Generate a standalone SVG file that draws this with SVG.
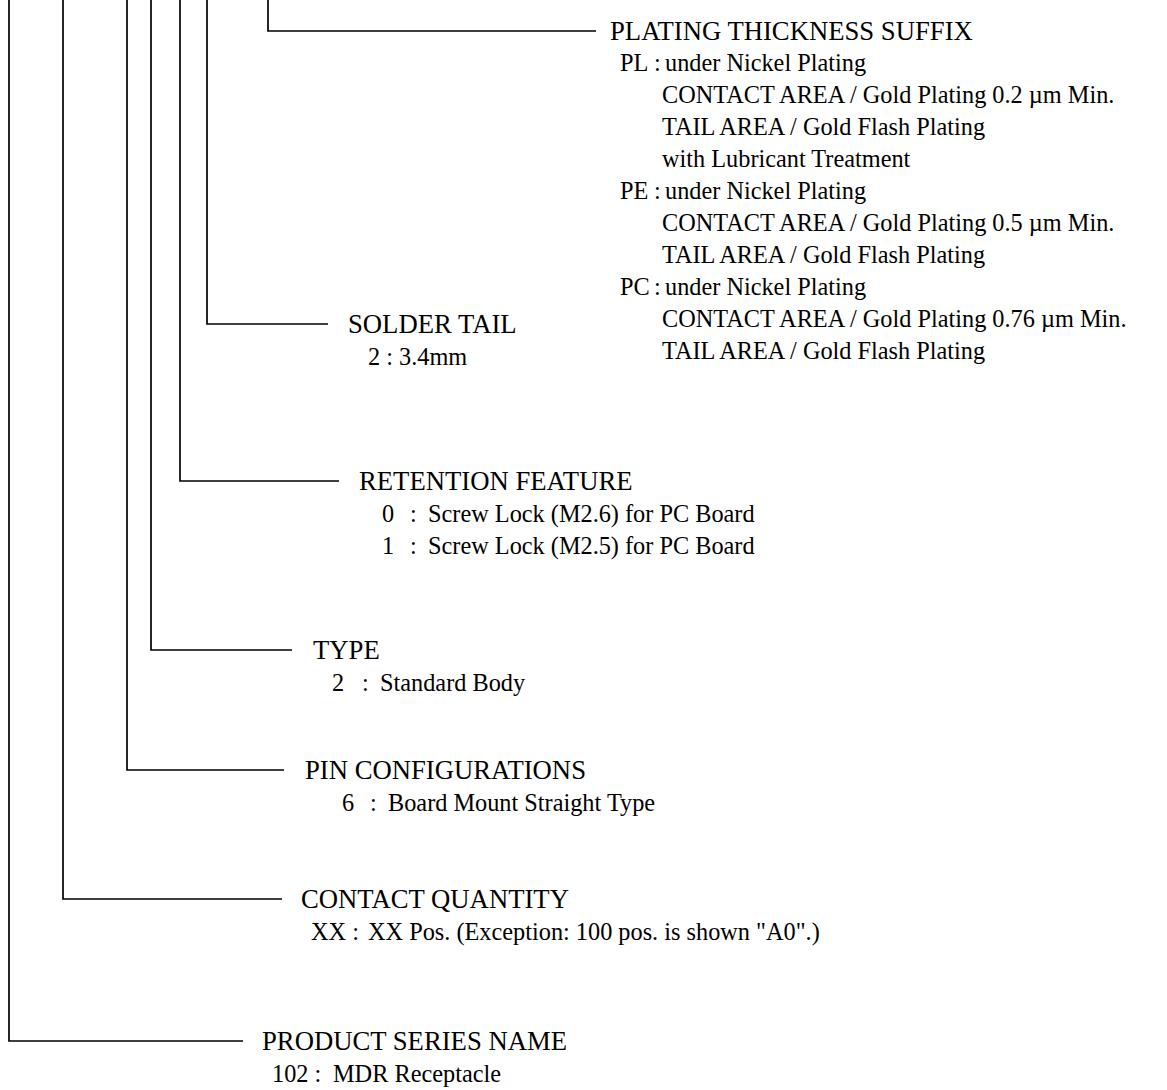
<svg xmlns="http://www.w3.org/2000/svg" width="1167" height="1090" viewBox="0 0 1167 1090">
<style>
.ln{fill:none;stroke:#000;stroke-width:1.7}
.h{font-family:"Liberation Serif","Times New Roman",serif;font-size:26.7px;fill:#000}
.b{font-family:"Liberation Serif","Times New Roman",serif;font-size:24.3px;fill:#000}
</style>
<rect width="1167" height="1090" fill="#fff"/>
<g id="connectors">
<polyline class="ln" points="268,0 268,31 596,31"/>
<polyline class="ln" points="207,0 207,324 328,324"/>
<polyline class="ln" points="180,0 180,481 339,481"/>
<polyline class="ln" points="151,0 151,650 292,650"/>
<polyline class="ln" points="127,0 127,770 284,770"/>
<polyline class="ln" points="63,0 63,899 282,899"/>
<polyline class="ln" points="9,0 9,1041 243,1041"/>
</g>
<g id="plating">
<text class="h" x="610" y="40">PLATING THICKNESS SUFFIX</text>
<text class="b" x="620" y="71">PL</text><text class="b" x="654" y="71">:</text><text class="b" x="665" y="71">under Nickel Plating</text>
<text class="b" x="662" y="103">CONTACT AREA / Gold Plating 0.2 µm Min.</text>
<text class="b" x="662" y="135">TAIL AREA / Gold Flash Plating</text>
<text class="b" x="662" y="167">with Lubricant Treatment</text>
<text class="b" x="620" y="199">PE</text><text class="b" x="654" y="199">:</text><text class="b" x="665" y="199">under Nickel Plating</text>
<text class="b" x="662" y="231">CONTACT AREA / Gold Plating 0.5 µm Min.</text>
<text class="b" x="662" y="263">TAIL AREA / Gold Flash Plating</text>
<text class="b" x="620" y="295">PC</text><text class="b" x="654" y="295">:</text><text class="b" x="665" y="295">under Nickel Plating</text>
<text class="b" x="662" y="327">CONTACT AREA / Gold Plating 0.76 µm Min.</text>
<text class="b" x="662" y="359">TAIL AREA / Gold Flash Plating</text>
</g>
<g id="solder">
<text class="h" x="348" y="333">SOLDER TAIL</text>
<text class="b" x="368" y="365">2 : 3.4mm</text>
</g>
<g id="retention">
<text class="h" x="359" y="490">RETENTION FEATURE</text>
<text class="b" x="382" y="522">0</text><text class="b" x="410" y="522">:</text><text class="b" x="428" y="522">Screw Lock (M2.6) for PC Board</text>
<text class="b" x="382" y="554">1</text><text class="b" x="410" y="554">:</text><text class="b" x="428" y="554">Screw Lock (M2.5) for PC Board</text>
</g>
<g id="type">
<text class="h" x="313" y="659">TYPE</text>
<text class="b" x="332" y="691">2</text><text class="b" x="362" y="691">:</text><text class="b" x="380" y="691">Standard Body</text>
</g>
<g id="pin">
<text class="h" x="305" y="779">PIN CONFIGURATIONS</text>
<text class="b" x="342" y="811">6</text><text class="b" x="370" y="811">:</text><text class="b" x="388" y="811">Board Mount Straight Type</text>
</g>
<g id="contact">
<text class="h" x="301" y="908">CONTACT QUANTITY</text>
<text class="b" x="311" y="940">XX :</text><text class="b" x="368" y="940">XX Pos. (Exception: 100 pos. is shown "A0".)</text>
</g>
<g id="product">
<text class="h" x="262" y="1050">PRODUCT SERIES NAME</text>
<text class="b" x="272" y="1082">102 :</text><text class="b" x="333" y="1082">MDR Receptacle</text>
</g>
</svg>
